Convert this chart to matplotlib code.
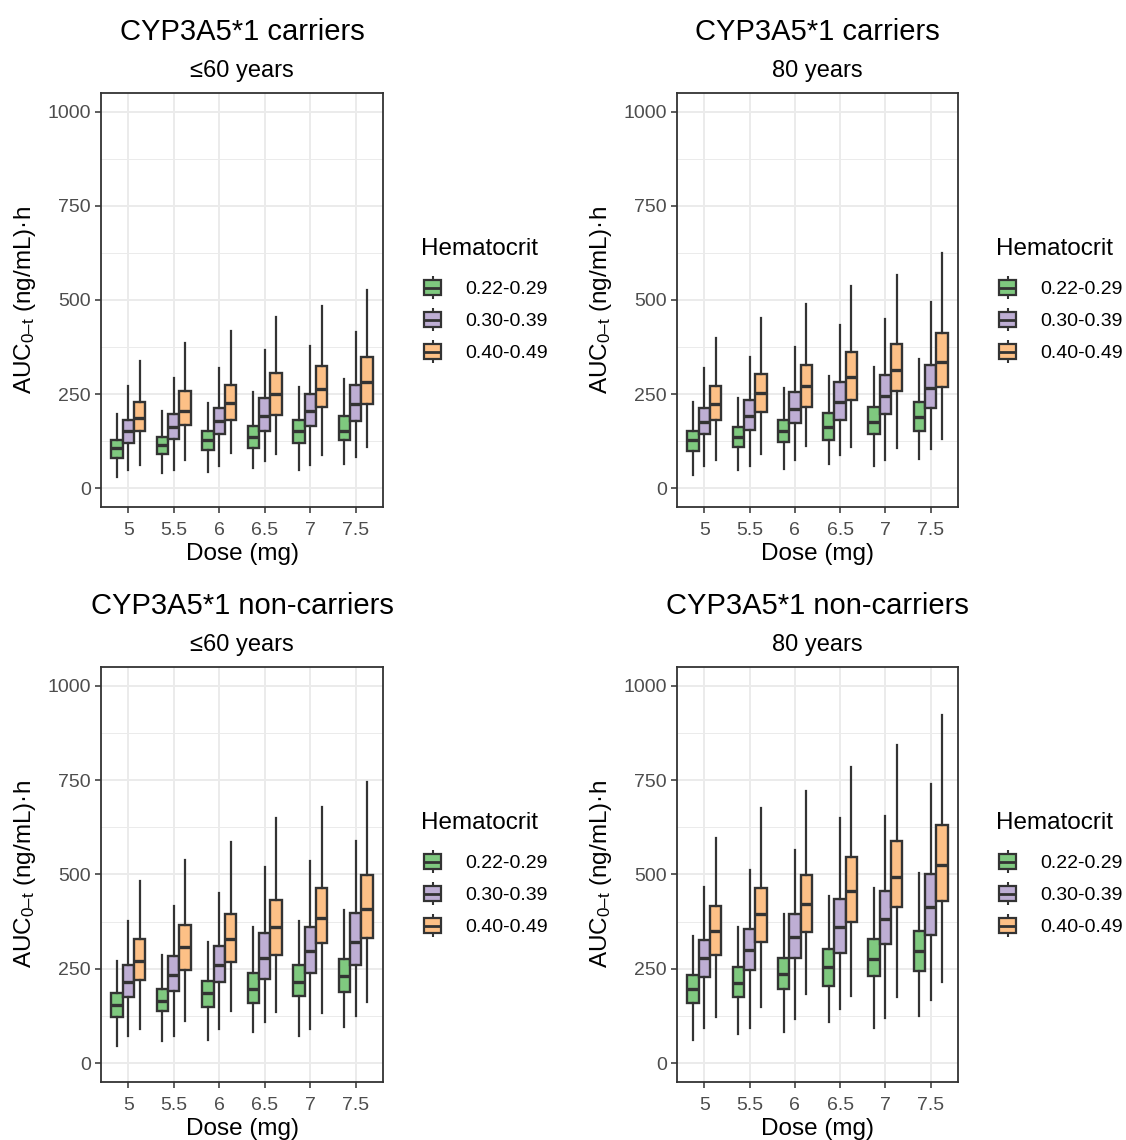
import matplotlib
matplotlib.use('Agg')
import matplotlib.pyplot as plt
from matplotlib.patches import Rectangle
from matplotlib.lines import Line2D
from matplotlib.legend_handler import HandlerBase
from matplotlib.ticker import FixedLocator

plt.rcParams['font.family'] = ['Liberation Sans', 'DejaVu Sans']
plt.rcParams['mathtext.fontset'] = 'custom'
plt.rcParams['mathtext.rm'] = 'Liberation Sans'
plt.rcParams['mathtext.it'] = 'Liberation Sans:italic'
plt.rcParams['mathtext.default'] = 'regular'

# ---------------- data ----------------
doses = ['5', '5.5', '6', '6.5', '7', '7.5']
groups = ['0.22-0.29', '0.30-0.39', '0.40-0.49']
colors = ['#7FC97F', '#BEAED4', '#FDC086']

titles = ['CYP3A5*1 carriers', 'CYP3A5*1 carriers',
          'CYP3A5*1 non-carriers', 'CYP3A5*1 non-carriers']
subtitles = ['\u226460 years', '80 years', '\u226460 years', '80 years']
legend_title = 'Hematocrit'

# CYP3A5*1 carriers, <=60 years  (rows: hematocrit groups, cols: doses)
car60_lo = [[31, 40, 42, 54, 47, 65], [49, 49, 60, 72, 62, 84], [62, 75, 93, 90, 88, 109]]
car60_q1 = [[81, 91, 102, 106, 120, 128], [120, 130, 144, 151, 165, 178], [151, 169, 180, 195, 217, 224]]
car60_med = [[106, 115, 127, 136, 151, 153], [151, 162, 178, 191, 205, 224], [187, 205, 227, 249, 264, 282]]
car60_q3 = [[129, 137, 153, 166, 182, 193], [181, 197, 214, 239, 251, 275], [228, 257, 275, 305, 324, 349]]
car60_hi = [[197, 205, 227, 255, 268, 290], [271, 292, 319, 368, 379, 414], [339, 385, 417, 456, 483, 527]]

# CYP3A5*1 carriers, 80 years
car80_lo = [[36, 49, 51, 65, 58, 78], [58, 58, 74, 87, 74, 105], [74, 91, 113, 109, 106, 131]]
car80_q1 = [[98, 110, 122, 128, 144, 153], [143, 155, 174, 182, 197, 213], [180, 202, 215, 233, 258, 270]]
car80_med = [[127, 136, 151, 162, 177, 189], [177, 193, 211, 228, 244, 266], [224, 252, 271, 295, 315, 335]]
car80_q3 = [[153, 163, 182, 199, 216, 228], [214, 233, 255, 283, 300, 328], [271, 304, 328, 361, 382, 413]]
car80_hi = [[228, 240, 267, 299, 321, 344], [319, 348, 375, 434, 450, 496], [399, 452, 490, 537, 567, 624]]

# CYP3A5*1 non-carriers, <=60 years
non60_lo = [[46, 59, 62, 82, 71, 97], [71, 71, 90, 109, 91, 126], [91, 113, 139, 135, 133, 161]]
non60_q1 = [[122, 137, 150, 159, 177, 188], [175, 192, 214, 224, 240, 261], [221, 247, 267, 287, 318, 331]]
non60_med = [[153, 165, 186, 197, 215, 231], [215, 234, 259, 278, 296, 321], [272, 309, 329, 360, 384, 409]]
non60_q3 = [[186, 197, 219, 239, 261, 277], [259, 283, 311, 345, 360, 398], [330, 367, 395, 433, 464, 499]]
non60_hi = [[272, 287, 320, 360, 378, 406], [377, 417, 451, 521, 535, 590], [483, 539, 586, 649, 678, 744]]

# CYP3A5*1 non-carriers, 80 years
non80_lo = [[60, 78, 82, 108, 93, 126], [93, 93, 118, 143, 119, 168], [121, 150, 184, 179, 174, 214]]
non80_q1 = [[159, 175, 196, 205, 231, 243], [227, 247, 278, 292, 315, 340], [287, 322, 347, 373, 413, 431]]
non80_med = [[196, 212, 236, 256, 276, 296], [279, 300, 334, 360, 382, 413], [349, 396, 421, 457, 493, 524]]
non80_q3 = [[234, 254, 278, 302, 329, 349], [327, 356, 395, 436, 455, 502], [417, 464, 499, 546, 588, 630]]
non80_hi = [[338, 362, 396, 444, 463, 504], [468, 512, 565, 651, 656, 739], [598, 676, 722, 786, 842, 923]]

yticks = [0, 250, 500, 750, 1000]
yminor = [125, 375, 625, 875]

panel_stats = [
    (car60_lo, car60_q1, car60_med, car60_q3, car60_hi),
    (car80_lo, car80_q1, car80_med, car80_q3, car80_hi),
    (non60_lo, non60_q1, non60_med, non60_q3, non60_hi),
    (non80_lo, non80_q1, non80_med, non80_q3, non80_hi),
]

# ---------------- layout ----------------
W, H = 1126, 1140
fig = plt.figure(figsize=(W / 100, H / 100), dpi=100)
fig.patch.set_facecolor('white')

boxes_px = [(101, 93, 383, 507), (677, 93, 958, 507),
            (101, 667, 383, 1082), (677, 667, 958, 1082)]
edge = '#333333'


class BoxKey(HandlerBase):
    def create_artists(self, legend, orig_handle, xdescent, ydescent,
                       width, height, fontsize, trans):
        fc = orig_handle.get_facecolor()
        x0, y0 = -xdescent, -ydescent
        cx = x0 + width / 2
        wl = Line2D([cx, cx], [y0, y0 + height], color=edge, lw=1.5,
                    solid_capstyle='butt', transform=trans)
        rect = Rectangle((x0, y0 + height * 0.19), width, height * 0.62,
                         facecolor=fc, edgecolor=edge, lw=1.6, transform=trans)
        med = Line2D([x0, x0 + width], [y0 + height / 2] * 2, color=edge, lw=2.0,
                     solid_capstyle='butt', transform=trans)
        return [wl, rect, med]


for k, (l, t, r, b) in enumerate(boxes_px):
    ax = fig.add_axes([l / W, 1 - b / H, (r - l) / W, (b - t) / H])
    lo, q1, med, q3, hi = panel_stats[k]
    for g in range(3):
        stats = [dict(med=med[g][i], q1=q1[g][i], q3=q3[g][i],
                      whislo=lo[g][i], whishi=hi[g][i]) for i in range(len(doses))]
        pos = [i + 1 + (g - 1) * 0.25 for i in range(len(doses))]
        ax.bxp(stats, positions=pos, widths=0.25, patch_artist=True,
               showfliers=False, showcaps=False, manage_ticks=False,
               boxprops=dict(facecolor=colors[g], edgecolor=edge, linewidth=1.7),
               medianprops=dict(color=edge, linewidth=2.4, solid_capstyle='butt'),
               whiskerprops=dict(color=edge, linewidth=1.6))
    ax.set_xlim(0.4, 6.6)
    ax.set_ylim(-50, 1050)
    ax.set_xticks(range(1, len(doses) + 1))
    ax.set_xticklabels(doses)
    ax.set_yticks(yticks)
    ax.yaxis.set_minor_locator(FixedLocator(yminor))
    ax.grid(which='major', color='#EBEBEB', linewidth=1.4)
    ax.grid(which='minor', axis='y', color='#EBEBEB', linewidth=0.7)
    ax.set_axisbelow(True)
    for s in ax.spines.values():
        s.set_color(edge)
        s.set_linewidth(1.3)
    ax.tick_params(which='major', length=4.3, width=1.1, color=edge,
                   labelsize=14, labelcolor='#4D4D4D', pad=3)
    ax.tick_params(axis='x', which='major', pad=6.5)
    ax.tick_params(which='minor', length=0)
    ax.set_xlabel('Dose (mg)', fontsize=17.5)
    ax.xaxis.label.set_va('center')
    ax.xaxis.set_label_coords(0.5, -0.114)
    ax.set_ylabel('AUC$_{0\u2013t}$ (ng/mL)\u00b7h', fontsize=17.5)
    ax.yaxis.label.set_va('center')
    ax.yaxis.set_label_coords(-0.27, 0.5)

    cx = (l + r) / 2
    fig.text(cx / W, 1 - (t - 61) / H, titles[k], ha='center', va='center', fontsize=21)
    fig.text(cx / W, 1 - (t - 22) / H, subtitles[k], ha='center', va='center', fontsize=17)

    fig.text((r + 38) / W, 1 - (t + 156) / H, legend_title, ha='left', va='center',
             fontsize=17.5)
    handles = [Rectangle((0, 0), 1, 1, facecolor=c) for c in colors]
    fig.legend(handles, groups, handler_map={Rectangle: BoxKey()},
               loc='upper left', bbox_to_anchor=((r + 41) / W, 1 - (t + 183) / H),
               frameon=False, fontsize=14,
               handlelength=0.88, handleheight=1.45,
               handletextpad=1.24, labelspacing=0.46, borderpad=0, borderaxespad=0)

fig.savefig('out.png', dpi=100, facecolor='white')
